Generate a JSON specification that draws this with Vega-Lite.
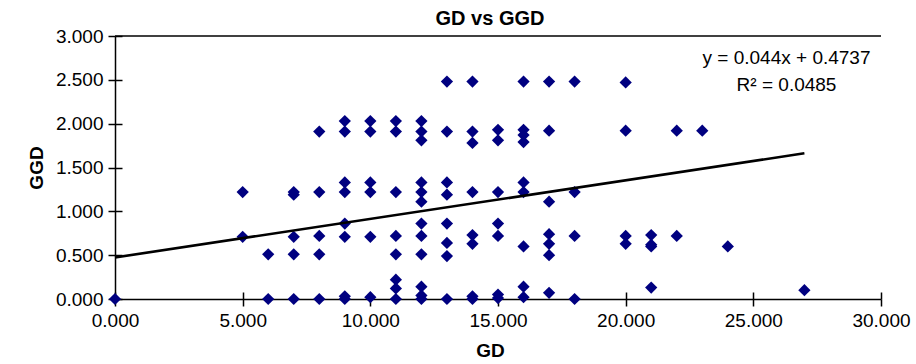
{
  "$schema": "https://vega.github.io/schema/vega-lite/v6.json",
  "width": 766,
  "height": 263,
  "autosize": "none",
  "padding": {"left": 115, "top": 36, "right": 35, "bottom": 65},
  "background": "white",
  "config": {
    "view": {"stroke": null},
    "font": "Liberation Sans",
    "axis": {"labelFont": "Liberation Sans", "titleFont": "Liberation Sans", "labelColor": "black", "titleColor": "black", "domainColor": "black", "tickColor": "black", "grid": false}
  },
  "title": {"text": "GD vs GGD", "font": "Liberation Sans", "fontSize": 20, "fontWeight": "bold", "color": "black", "offset": 8, "dx": -8, "dy": 10},
  "datasets": {
    "points": [
      {"GD": 0, "GGD": 0},
      {"GD": 5, "GGD": 1.22}, {"GD": 5, "GGD": 0.71},
      {"GD": 6, "GGD": 0.51}, {"GD": 6, "GGD": 0},
      {"GD": 7, "GGD": 1.22}, {"GD": 7, "GGD": 1.19}, {"GD": 7, "GGD": 0.71}, {"GD": 7, "GGD": 0.51}, {"GD": 7, "GGD": 0},
      {"GD": 8, "GGD": 1.91}, {"GD": 8, "GGD": 1.22}, {"GD": 8, "GGD": 0.72}, {"GD": 8, "GGD": 0.51}, {"GD": 8, "GGD": 0},
      {"GD": 9, "GGD": 2.03}, {"GD": 9, "GGD": 1.91}, {"GD": 9, "GGD": 1.33}, {"GD": 9, "GGD": 1.22}, {"GD": 9, "GGD": 0.86}, {"GD": 9, "GGD": 0.71}, {"GD": 9, "GGD": 0.03}, {"GD": 9, "GGD": 0},
      {"GD": 10, "GGD": 2.03}, {"GD": 10, "GGD": 1.91}, {"GD": 10, "GGD": 1.33}, {"GD": 10, "GGD": 1.22}, {"GD": 10, "GGD": 0.71}, {"GD": 10, "GGD": 0.02},
      {"GD": 11, "GGD": 2.03}, {"GD": 11, "GGD": 1.91}, {"GD": 11, "GGD": 1.22}, {"GD": 11, "GGD": 0.72}, {"GD": 11, "GGD": 0.51}, {"GD": 11, "GGD": 0.22}, {"GD": 11, "GGD": 0.12}, {"GD": 11, "GGD": 0},
      {"GD": 12, "GGD": 2.03}, {"GD": 12, "GGD": 1.91}, {"GD": 12, "GGD": 1.81}, {"GD": 12, "GGD": 1.33}, {"GD": 12, "GGD": 1.22}, {"GD": 12, "GGD": 1.11}, {"GD": 12, "GGD": 0.86}, {"GD": 12, "GGD": 0.72}, {"GD": 12, "GGD": 0.51}, {"GD": 12, "GGD": 0.14}, {"GD": 12, "GGD": 0.04}, {"GD": 12, "GGD": 0},
      {"GD": 13, "GGD": 2.48}, {"GD": 13, "GGD": 1.91}, {"GD": 13, "GGD": 1.33}, {"GD": 13, "GGD": 1.19}, {"GD": 13, "GGD": 0.86}, {"GD": 13, "GGD": 0.64}, {"GD": 13, "GGD": 0.49}, {"GD": 13, "GGD": 0},
      {"GD": 14, "GGD": 2.48}, {"GD": 14, "GGD": 1.91}, {"GD": 14, "GGD": 1.78}, {"GD": 14, "GGD": 1.22}, {"GD": 14, "GGD": 0.73}, {"GD": 14, "GGD": 0.63}, {"GD": 14, "GGD": 0.03}, {"GD": 14, "GGD": 0},
      {"GD": 15, "GGD": 1.93}, {"GD": 15, "GGD": 1.81}, {"GD": 15, "GGD": 1.22}, {"GD": 15, "GGD": 0.86}, {"GD": 15, "GGD": 0.72}, {"GD": 15, "GGD": 0.05}, {"GD": 15, "GGD": 0.01},
      {"GD": 16, "GGD": 2.48}, {"GD": 16, "GGD": 1.93}, {"GD": 16, "GGD": 1.87}, {"GD": 16, "GGD": 1.79}, {"GD": 16, "GGD": 1.33}, {"GD": 16, "GGD": 1.22}, {"GD": 16, "GGD": 0.6}, {"GD": 16, "GGD": 0.14}, {"GD": 16, "GGD": 0.02},
      {"GD": 17, "GGD": 2.48}, {"GD": 17, "GGD": 1.92}, {"GD": 17, "GGD": 1.11}, {"GD": 17, "GGD": 0.74}, {"GD": 17, "GGD": 0.63}, {"GD": 17, "GGD": 0.5}, {"GD": 17, "GGD": 0.07},
      {"GD": 18, "GGD": 2.48}, {"GD": 18, "GGD": 1.22}, {"GD": 18, "GGD": 0.72}, {"GD": 18, "GGD": 0},
      {"GD": 20, "GGD": 2.47}, {"GD": 20, "GGD": 1.92}, {"GD": 20, "GGD": 0.72}, {"GD": 20, "GGD": 0.63},
      {"GD": 21, "GGD": 0.73}, {"GD": 21, "GGD": 0.62}, {"GD": 21, "GGD": 0.6}, {"GD": 21, "GGD": 0.13},
      {"GD": 22, "GGD": 1.92}, {"GD": 22, "GGD": 0.72},
      {"GD": 23, "GGD": 1.92},
      {"GD": 24, "GGD": 0.6},
      {"GD": 27, "GGD": 0.1}
    ],
    "trend": [
      {"GD": 0, "GGD": 0.4737},
      {"GD": 27, "GGD": 1.6617}
    ],
    "one": [{}]
  },
  "layer": [
    {
      "data": {"name": "points"},
      "mark": {"type": "point", "shape": "diamond", "filled": true, "color": "#000080", "size": 150, "opacity": 1},
      "encoding": {
        "x": {"field": "GD", "type": "quantitative", "scale": {"domain": [0, 30], "nice": false, "zero": true},
          "axis": {"orient": "bottom", "values": [0, 5, 10, 15, 20, 25, 30], "format": ".3f", "labelFontSize": 19, "tickSize": 7, "tickWidth": 1.5, "domainWidth": 1.5, "labelPadding": 5, "title": "GD", "titleFontSize": 19, "titleFontWeight": "bold", "titlePadding": 11, "titleX": 375, "labelFlush": false, "labelOverlap": false}},
        "y": {"field": "GGD", "type": "quantitative", "scale": {"domain": [0, 3], "nice": false},
          "axis": {"orient": "left", "values": [0, 0.5, 1, 1.5, 2, 2.5, 3], "format": ".3f", "labelFontSize": 19, "tickSize": 7, "tickWidth": 1.5, "domainWidth": 1.5, "labelPadding": 5, "title": "GGD", "titleFontSize": 19, "titleFontWeight": "bold", "titlePadding": 9, "labelFlush": false, "labelOverlap": false}}
      }
    },
    {
      "data": {"name": "trend"},
      "mark": {"type": "line", "color": "black", "strokeWidth": 2.6},
      "encoding": {
        "x": {"field": "GD", "type": "quantitative", "scale": {"domain": [0, 30], "nice": false},
          "axis": {"orient": "bottom", "values": [0, 5, 10, 15, 20, 25, 30], "tickSize": -7, "tickWidth": 1.5, "domain": false, "labels": false, "title": null}},
        "y": {"field": "GGD", "type": "quantitative", "scale": {"domain": [0, 3], "nice": false},
          "axis": {"orient": "left", "values": [0, 0.5, 1, 1.5, 2, 2.5, 3], "tickSize": -7, "tickWidth": 1.5, "domain": false, "labels": false, "title": null}}
      }
    },
    {
      "data": {"name": "one"},
      "mark": {"type": "rule", "color": "black", "strokeWidth": 1.5},
      "encoding": {"y": {"datum": 3, "type": "quantitative", "axis": null}}
    },
    {
      "data": {"name": "one"},
      "mark": {"type": "text", "font": "Liberation Sans", "fontSize": 19, "color": "black", "align": "center", "baseline": "middle"},
      "encoding": {
        "x": {"datum": 26.3, "type": "quantitative", "axis": null},
        "y": {"datum": 2.75, "type": "quantitative", "axis": null},
        "text": {"value": "y = 0.044x + 0.4737"}
      }
    },
    {
      "data": {"name": "one"},
      "mark": {"type": "text", "font": "Liberation Sans", "fontSize": 19, "color": "black", "align": "center", "baseline": "middle"},
      "encoding": {
        "x": {"datum": 26.3, "type": "quantitative", "axis": null},
        "y": {"datum": 2.44, "type": "quantitative", "axis": null},
        "text": {"value": "R² = 0.0485"}
      }
    }
  ],
  "resolve": {"axis": {"x": "independent", "y": "independent"}}
}
